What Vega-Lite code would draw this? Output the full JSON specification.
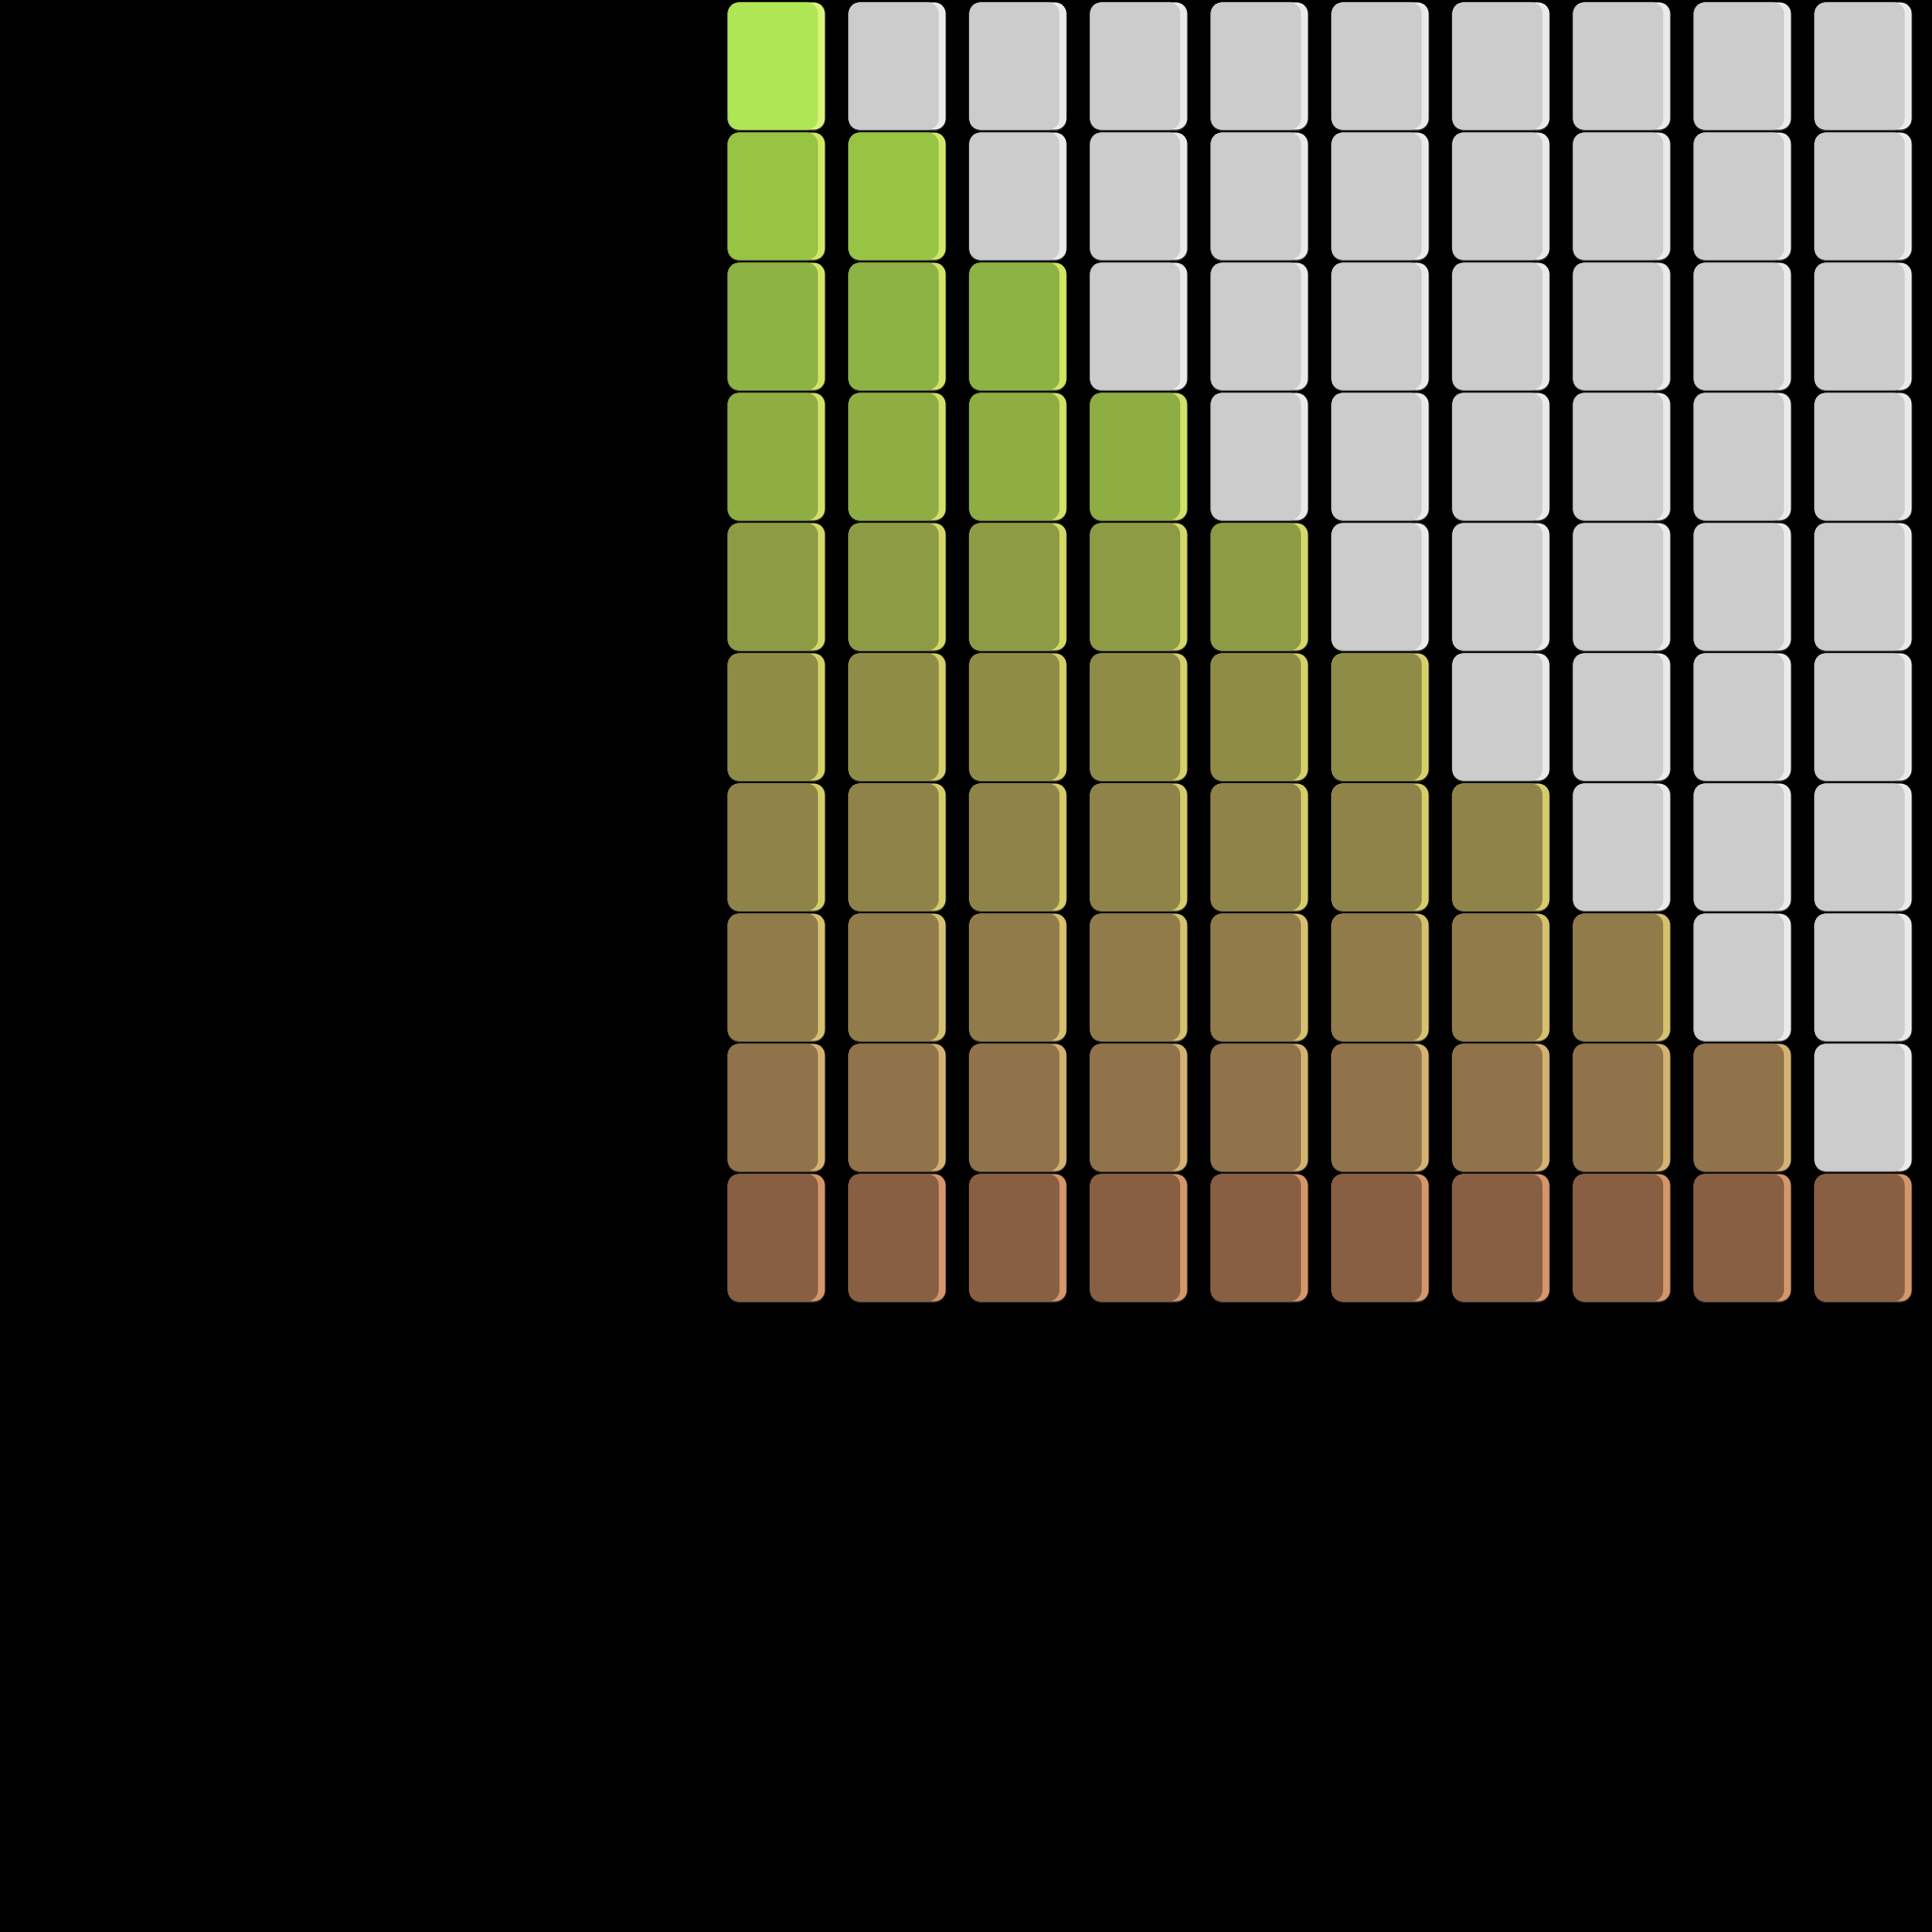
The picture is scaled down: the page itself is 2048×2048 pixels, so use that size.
{
  "$schema": "https://vega.github.io/schema/vega-lite/v6.json",
  "autosize": "none",
  "width": 1280,
  "height": 1380,
  "padding": {"left": 759, "top": 1, "right": 9, "bottom": 667},
  "background": "#000000",
  "config": {"view": {"stroke": null}},
  "data": {"values": [
    {"r":1,"c":1,"k":"r1"},{"r":1,"c":2,"k":"empty"},{"r":1,"c":3,"k":"empty"},{"r":1,"c":4,"k":"empty"},{"r":1,"c":5,"k":"empty"},{"r":1,"c":6,"k":"empty"},{"r":1,"c":7,"k":"empty"},{"r":1,"c":8,"k":"empty"},{"r":1,"c":9,"k":"empty"},{"r":1,"c":10,"k":"empty"},
    {"r":2,"c":1,"k":"r2"},{"r":2,"c":2,"k":"r2"},{"r":2,"c":3,"k":"empty"},{"r":2,"c":4,"k":"empty"},{"r":2,"c":5,"k":"empty"},{"r":2,"c":6,"k":"empty"},{"r":2,"c":7,"k":"empty"},{"r":2,"c":8,"k":"empty"},{"r":2,"c":9,"k":"empty"},{"r":2,"c":10,"k":"empty"},
    {"r":3,"c":1,"k":"r3"},{"r":3,"c":2,"k":"r3"},{"r":3,"c":3,"k":"r3"},{"r":3,"c":4,"k":"empty"},{"r":3,"c":5,"k":"empty"},{"r":3,"c":6,"k":"empty"},{"r":3,"c":7,"k":"empty"},{"r":3,"c":8,"k":"empty"},{"r":3,"c":9,"k":"empty"},{"r":3,"c":10,"k":"empty"},
    {"r":4,"c":1,"k":"r4"},{"r":4,"c":2,"k":"r4"},{"r":4,"c":3,"k":"r4"},{"r":4,"c":4,"k":"r4"},{"r":4,"c":5,"k":"empty"},{"r":4,"c":6,"k":"empty"},{"r":4,"c":7,"k":"empty"},{"r":4,"c":8,"k":"empty"},{"r":4,"c":9,"k":"empty"},{"r":4,"c":10,"k":"empty"},
    {"r":5,"c":1,"k":"r5"},{"r":5,"c":2,"k":"r5"},{"r":5,"c":3,"k":"r5"},{"r":5,"c":4,"k":"r5"},{"r":5,"c":5,"k":"r5"},{"r":5,"c":6,"k":"empty"},{"r":5,"c":7,"k":"empty"},{"r":5,"c":8,"k":"empty"},{"r":5,"c":9,"k":"empty"},{"r":5,"c":10,"k":"empty"},
    {"r":6,"c":1,"k":"r6"},{"r":6,"c":2,"k":"r6"},{"r":6,"c":3,"k":"r6"},{"r":6,"c":4,"k":"r6"},{"r":6,"c":5,"k":"r6"},{"r":6,"c":6,"k":"r6"},{"r":6,"c":7,"k":"empty"},{"r":6,"c":8,"k":"empty"},{"r":6,"c":9,"k":"empty"},{"r":6,"c":10,"k":"empty"},
    {"r":7,"c":1,"k":"r7"},{"r":7,"c":2,"k":"r7"},{"r":7,"c":3,"k":"r7"},{"r":7,"c":4,"k":"r7"},{"r":7,"c":5,"k":"r7"},{"r":7,"c":6,"k":"r7"},{"r":7,"c":7,"k":"r7"},{"r":7,"c":8,"k":"empty"},{"r":7,"c":9,"k":"empty"},{"r":7,"c":10,"k":"empty"},
    {"r":8,"c":1,"k":"r8"},{"r":8,"c":2,"k":"r8"},{"r":8,"c":3,"k":"r8"},{"r":8,"c":4,"k":"r8"},{"r":8,"c":5,"k":"r8"},{"r":8,"c":6,"k":"r8"},{"r":8,"c":7,"k":"r8"},{"r":8,"c":8,"k":"r8"},{"r":8,"c":9,"k":"empty"},{"r":8,"c":10,"k":"empty"},
    {"r":9,"c":1,"k":"r9"},{"r":9,"c":2,"k":"r9"},{"r":9,"c":3,"k":"r9"},{"r":9,"c":4,"k":"r9"},{"r":9,"c":5,"k":"r9"},{"r":9,"c":6,"k":"r9"},{"r":9,"c":7,"k":"r9"},{"r":9,"c":8,"k":"r9"},{"r":9,"c":9,"k":"r9"},{"r":9,"c":10,"k":"empty"},
    {"r":10,"c":1,"k":"r10"},{"r":10,"c":2,"k":"r10"},{"r":10,"c":3,"k":"r10"},{"r":10,"c":4,"k":"r10"},{"r":10,"c":5,"k":"r10"},{"r":10,"c":6,"k":"r10"},{"r":10,"c":7,"k":"r10"},{"r":10,"c":8,"k":"r10"},{"r":10,"c":9,"k":"r10"},{"r":10,"c":10,"k":"r10"}
  ]},
  "encoding": {
    "x": {"field": "c", "type": "ordinal", "axis": null,
          "scale": {"domain": [1,2,3,4,5,6,7,8,9,10], "paddingInner": 0.1953, "paddingOuter": 0.0977}},
    "y": {"field": "r", "type": "ordinal", "axis": null,
          "scale": {"domain": [1,2,3,4,5,6,7,8,9,10], "paddingInner": 0.0217, "paddingOuter": 0.0109}}
  },
  "layer": [
    {
      "mark": {"type": "rect", "cornerRadius": 12, "yOffset": 1.5, "color": "#2a2a2a"},
      "encoding": {}
    },
    {
      "mark": {"type": "rect", "cornerRadius": 12},
      "encoding": {
        "color": {"field": "k", "type": "nominal", "legend": null,
          "scale": {"domain": ["r1","r2","r3","r4","r5","r6","r7","r8","r9","r10","empty"],
                    "range": ["#ddf27c","#d4e66a","#d4e466","#d3e06a","#d4d86a","#d5d06a","#d5cc6c","#d6c170","#d4b272","#d4966a","#eaeaea"]}}
      }
    },
    {
      "mark": {"type": "rect", "cornerRadius": 12, "width": {"band": 0.928}, "xOffset": -3.7},
      "encoding": {
        "color": {"field": "k", "type": "nominal", "legend": null,
          "scale": {"domain": ["r1","r2","r3","r4","r5","r6","r7","r8","r9","r10","empty"],
                    "range": ["#aee655","#98c444","#8cb343","#8eae44","#8e9b45","#8f8c48","#8f8349","#927b4b","#91734b","#885f42","#cccccc"]}}
      }
    }
  ],
  "resolve": {"scale": {"color": "independent"}}
}
